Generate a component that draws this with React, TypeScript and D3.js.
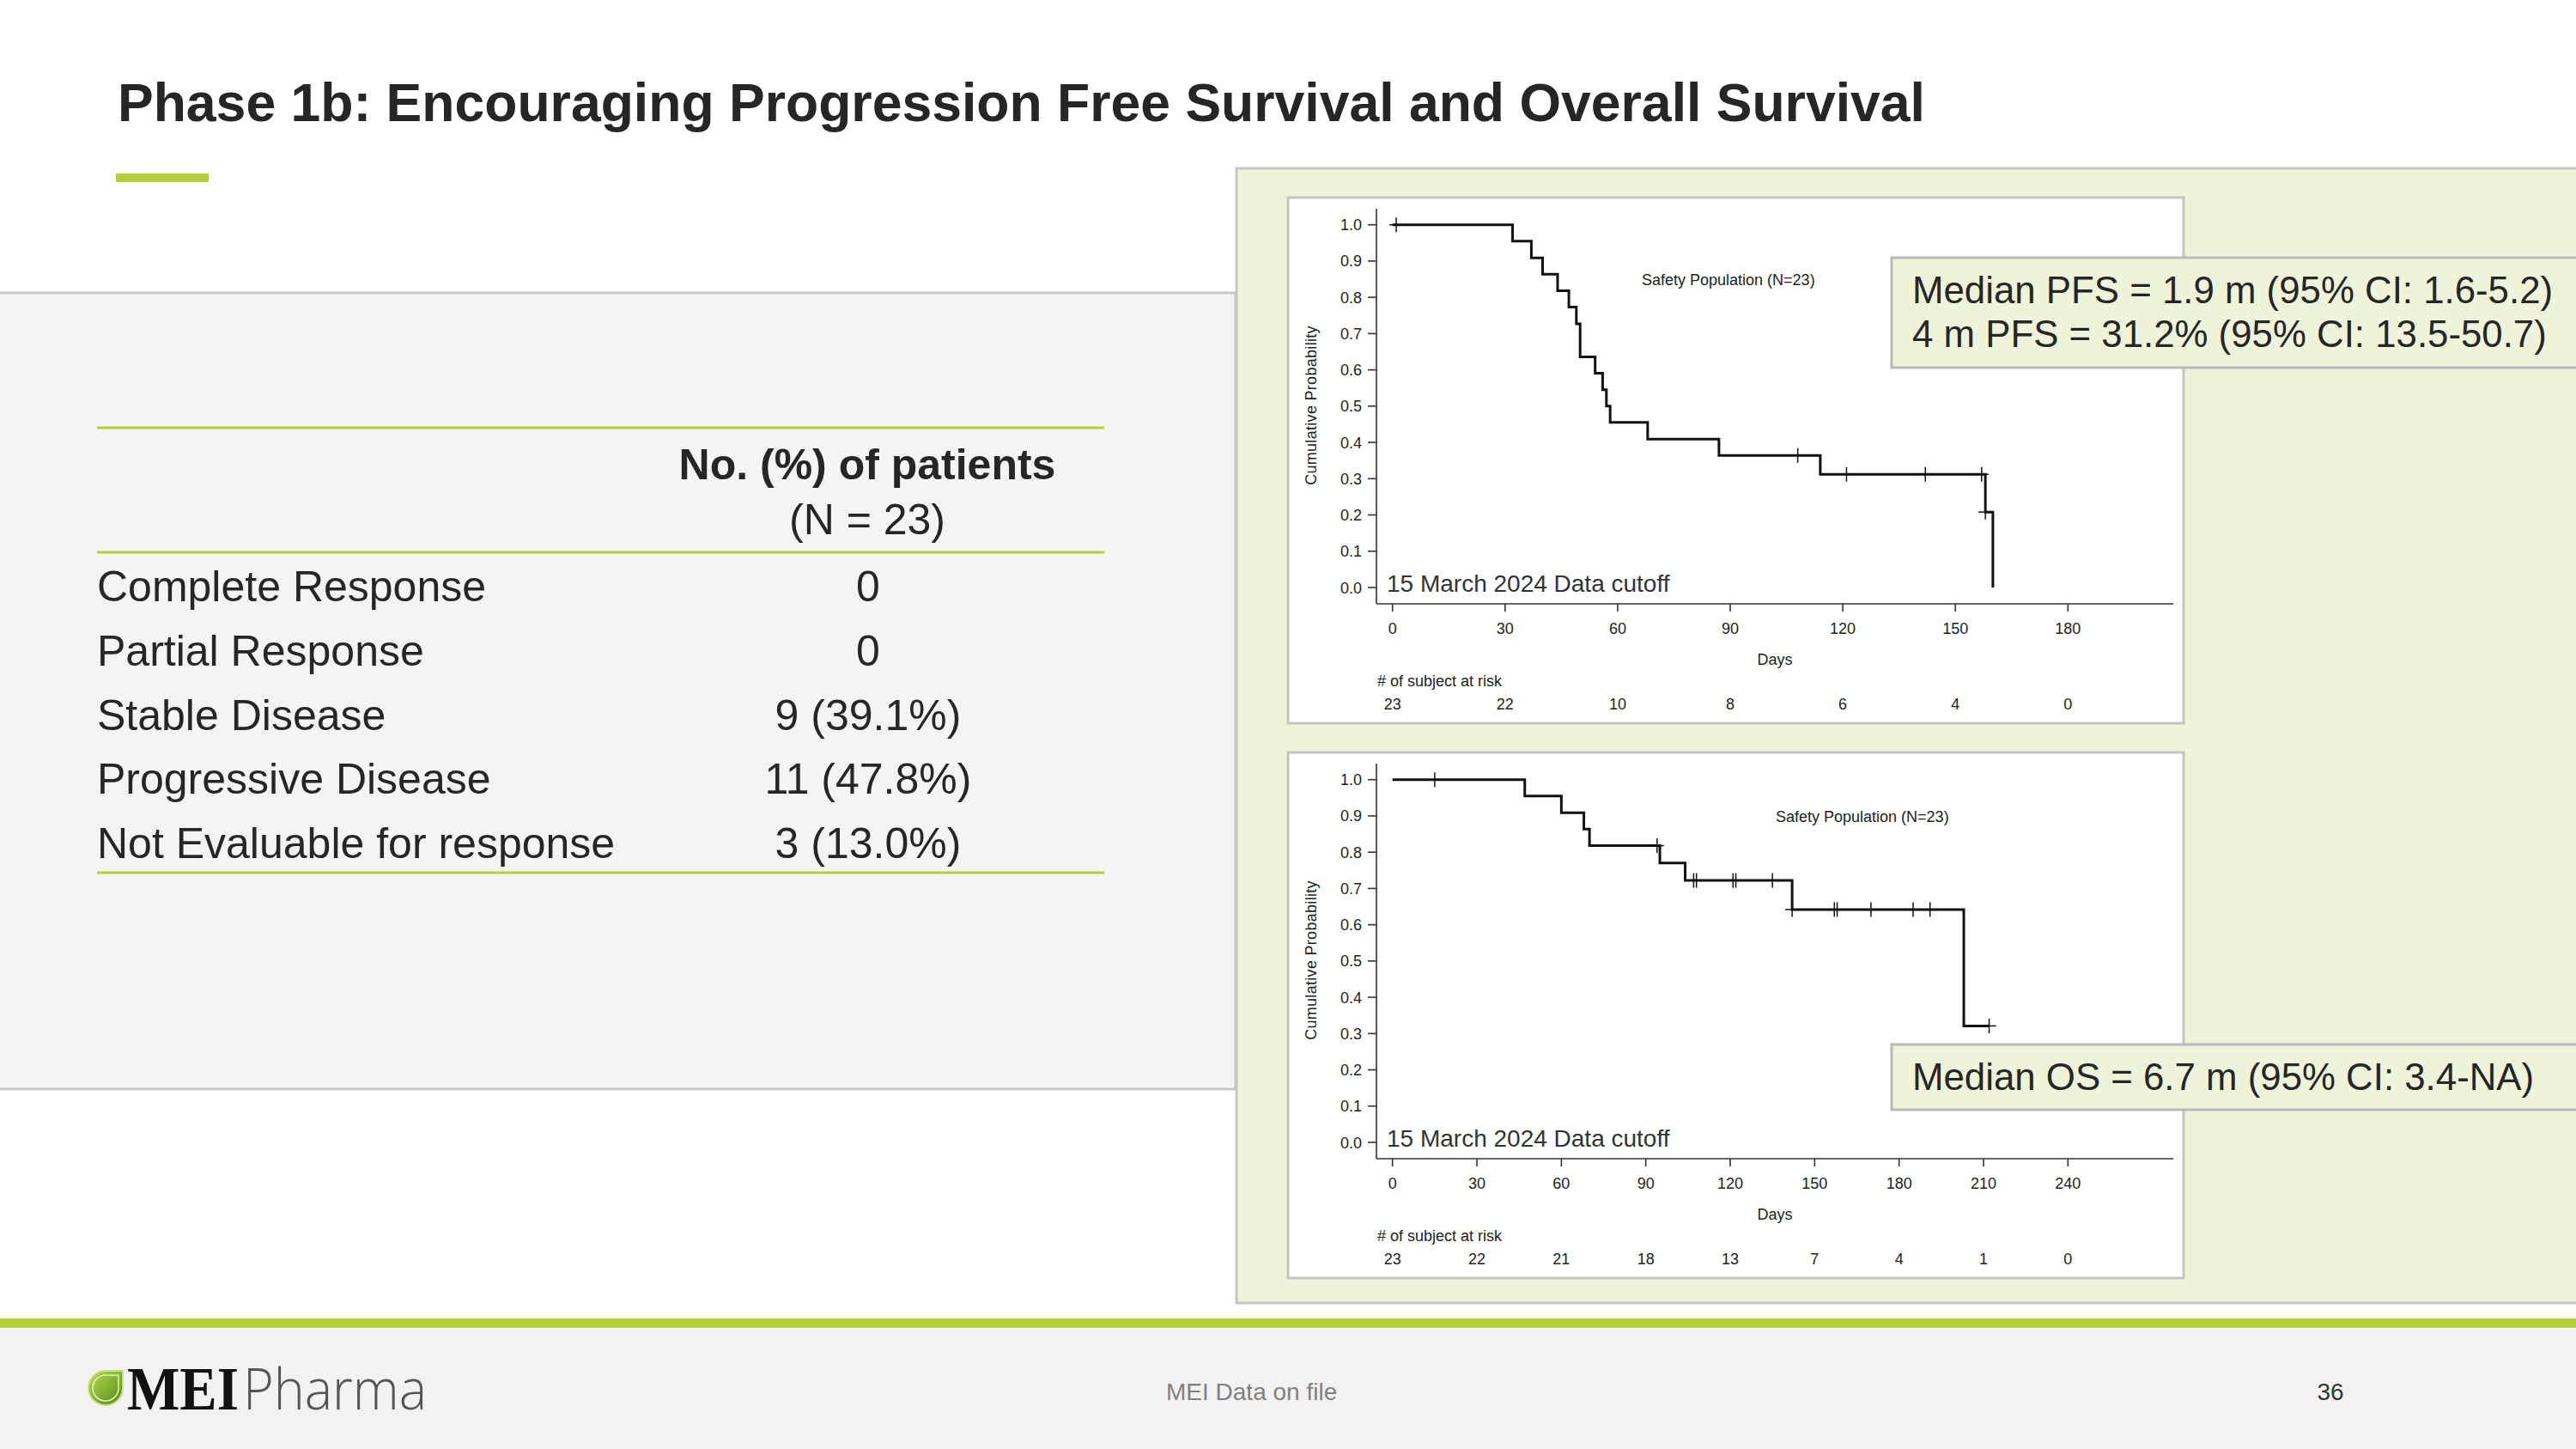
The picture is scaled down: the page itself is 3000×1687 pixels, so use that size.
import React from "react";
import * as d3 from "d3";

const titleText = "Phase 1b: Encouraging Progression Free Survival and Overall Survival";

const tableHeader1 = "No. (%) of patients";
const tableHeader2 = "(N = 23)";
const tableRowLabels = [
  "Complete Response",
  "Partial Response",
  "Stable Disease",
  "Progressive Disease",
  "Not Evaluable for response",
];
const tableRowValues = ["0", "0", "9 (39.1%)", "11 (47.8%)", "3 (13.0%)"];

const yTicks = [0, 0.1, 0.2, 0.3, 0.4, 0.5, 0.6, 0.7, 0.8, 0.9, 1.0];

// PFS Kaplan-Meier (days, survival)
const pfsTimes = [0, 32, 37, 40, 44, 47, 49, 50, 54, 56, 57, 58, 68, 87, 114, 158, 160];
const pfsSurv = [1, 0.955, 0.909, 0.864, 0.818, 0.773, 0.727, 0.636, 0.591, 0.545, 0.5, 0.455, 0.409, 0.364, 0.312, 0.208, 0];
const pfsCensorTimes = [1, 108, 121, 142, 157, 158];
const pfsCensorSurv = [1, 0.364, 0.312, 0.312, 0.312, 0.208];
const pfsXTicks = [0, 30, 60, 90, 120, 150, 180];
const pfsAtRisk = [23, 22, 10, 8, 6, 4, 0];
const pfsNotes = ["Median PFS = 1.9 m (95% CI: 1.6-5.2)", "4 m PFS = 31.2% (95% CI: 13.5-50.7)"];

// OS Kaplan-Meier
const osTimes = [0, 47, 60, 68, 70, 95, 104, 142, 203, 212];
const osSurv = [1, 0.955, 0.909, 0.864, 0.818, 0.77, 0.722, 0.642, 0.321, 0.321];
const osCensorTimes = [15, 94, 107, 108, 121, 122, 135, 142, 157, 158, 170, 185, 191, 212];
const osCensorSurv = [1, 0.818, 0.722, 0.722, 0.722, 0.722, 0.722, 0.642, 0.642, 0.642, 0.642, 0.642, 0.642, 0.321];
const osXTicks = [0, 30, 60, 90, 120, 150, 180, 210, 240];
const osAtRisk = [23, 22, 21, 18, 13, 7, 4, 1, 0];
const osNotes = ["Median OS = 6.7 m (95% CI: 3.4-NA)"];

const populationLabel = "Safety Population (N=23)";
const cutoffLabel = "15 March 2024 Data cutoff";

const GREEN = "#b3d03a";
const TEXT = "#262626";
const SANS = "'Liberation Sans', Arial, Helvetica, sans-serif";

type KMProps = {
  top: number;
  times: number[];
  surv: number[];
  cTimes: number[];
  cSurv: number[];
  xTicks: number[];
  atRisk: number[];
  popX: number;
  popDy: number;
};

function KMPanel({ top, times, surv, cTimes, cSurv, xTicks, atRisk, popX, popDy }: KMProps) {
  const xMax = xTicks[xTicks.length - 1];
  const x = d3.scaleLinear().domain([0, xMax]).range([1621.7, 2408.3]);
  const y = d3.scaleLinear().domain([0, 1]).range([top + 454, top + 31.7]);
  const pts: [number, number][] = times.map((t, i) => [t, surv[i]]);
  const line = d3
    .line<[number, number]>()
    .x((d) => x(d[0]))
    .y((d) => y(d[1]))
    .curve(d3.curveStepAfter);
  const axisX = 1603;
  const axisY = top + 473;
  const fmt = d3.format(".1f");
  return (
    <g fontFamily={SANS}>
      <rect x={1500} y={top} width={1043} height={612} fill="#ffffff" stroke="#c4c4c4" strokeWidth={3} />
      {/* y axis */}
      <line x1={axisX} x2={axisX} y1={top + 13} y2={axisY} stroke="#333" strokeWidth={1.6} />
      {yTicks.map((t) => (
        <g key={"y" + t}>
          <line x1={axisX - 10} x2={axisX} y1={y(t)} y2={y(t)} stroke="#333" strokeWidth={1.6} />
          <text x={1586} y={y(t) + 6.5} fontSize={18} textAnchor="end" fill="#222">
            {fmt(t)}
          </text>
        </g>
      ))}
      <text
        transform={`translate(1532.5,${top + 242}) rotate(-90)`}
        fontSize={18}
        textAnchor="middle"
        fill="#222"
        letterSpacing={0.3}
      >
        Cumulative Probability
      </text>
      {/* x axis */}
      <line x1={axisX} x2={2531} y1={axisY} y2={axisY} stroke="#333" strokeWidth={1.6} />
      {xTicks.map((t) => (
        <g key={"x" + t}>
          <line x1={x(t)} x2={x(t)} y1={axisY} y2={axisY + 9} stroke="#333" strokeWidth={1.6} />
          <text x={x(t)} y={top + 508} fontSize={18} textAnchor="middle" fill="#222">
            {t}
          </text>
        </g>
      ))}
      <text x={2067} y={top + 544} fontSize={18} textAnchor="middle" fill="#222">
        Days
      </text>
      <text x={1604} y={top + 569} fontSize={18} fill="#222">
        # of subject at risk
      </text>
      {atRisk.map((n, i) => (
        <text key={"r" + i} x={x(xTicks[i])} y={top + 596} fontSize={18} textAnchor="middle" fill="#222">
          {n}
        </text>
      ))}
      <text x={popX} y={top + popDy} fontSize={18} fill="#222">
        {populationLabel}
      </text>
      <text x={1615} y={top + 459} fontSize={28} fill="#333">
        {cutoffLabel}
      </text>
      {/* curve */}
      <path d={line(pts) || ""} fill="none" stroke="#111" strokeWidth={3} />
      {cTimes.map((t, i) => (
        <g key={"c" + i} stroke="#111" strokeWidth={1.5}>
          <line x1={x(t) - 8} x2={x(t) + 8} y1={y(cSurv[i])} y2={y(cSurv[i])} />
          <line x1={x(t)} x2={x(t)} y1={y(cSurv[i]) - 8.5} y2={y(cSurv[i]) + 8.5} />
        </g>
      ))}
    </g>
  );
}

function NoteBox({ y0, h, lines, base }: { y0: number; h: number; lines: string[]; base: number }) {
  return (
    <g fontFamily={SANS}>
      <rect x={2203} y={y0} width={820} height={h} fill="#eef4d9" stroke="#b9b9b9" strokeWidth={3} />
      {lines.map((l, i) => (
        <text key={i} x={2227} y={base + i * 51} fontSize={43.8} fill={TEXT}>
          {l}
        </text>
      ))}
    </g>
  );
}

export default function App() {
  const rowY = d3.scaleLinear().domain([0, tableRowLabels.length - 1]).range([700, 999]);
  return (
    <svg
      width={3000}
      height={1687}
      viewBox="0 0 3000 1687"
      style={{ position: "absolute", left: 0, top: 0, display: "block" }}
      xmlns="http://www.w3.org/2000/svg"
    >
      <defs>
        <linearGradient id="leafGrad" x1="0" y1="0" x2="1" y2="1">
          <stop offset="0" stopColor="#b9dc4f" />
          <stop offset="1" stopColor="#4f8a1c" />
        </linearGradient>
      </defs>
      <rect x={0} y={0} width={3000} height={1687} fill="#ffffff" />

      {/* title */}
      <text x={137} y={141} fontFamily={SANS} fontWeight="bold" fontSize={62.5} fill={TEXT}>
        {titleText}
      </text>
      <rect x={135} y={202} width={108} height={10} fill={GREEN} />

      {/* table panel */}
      <rect x={-3} y={341} width={1442} height={927} fill="#f4f4f4" stroke="#c8c8c8" strokeWidth={3} />
      <g fontFamily={SANS} fill={TEXT}>
        <line x1={113} x2={1286} y1={498} y2={498} stroke={GREEN} strokeWidth={3} />
        <text x={1010} y={558} fontSize={50} fontWeight="bold" textAnchor="middle">
          {tableHeader1}
        </text>
        <text x={1010} y={622} fontSize={50} textAnchor="middle">
          {tableHeader2}
        </text>
        <line x1={113} x2={1286} y1={643} y2={643} stroke={GREEN} strokeWidth={3} />
        {tableRowLabels.map((l, i) => (
          <g key={l}>
            <text x={113} y={rowY(i)} fontSize={50}>
              {l}
            </text>
            <text x={1011} y={rowY(i)} fontSize={50} textAnchor="middle">
              {tableRowValues[i]}
            </text>
          </g>
        ))}
        <line x1={113} x2={1286} y1={1016} y2={1016} stroke={GREEN} strokeWidth={3} />
      </g>

      {/* green panel */}
      <rect x={1440} y={196} width={1575} height={1321} fill="#eef4d9" stroke="#c6c6c6" strokeWidth={3} />

      <KMPanel
        top={230}
        times={pfsTimes}
        surv={pfsSurv}
        cTimes={pfsCensorTimes}
        cSurv={pfsCensorSurv}
        xTicks={pfsXTicks}
        atRisk={pfsAtRisk}
        popX={1912}
        popDy={102}
      />
      <NoteBox y0={300} h={128} lines={pfsNotes} base={353} />

      <KMPanel
        top={876}
        times={osTimes}
        surv={osSurv}
        cTimes={osCensorTimes}
        cSurv={osCensorSurv}
        xTicks={osXTicks}
        atRisk={osAtRisk}
        popX={2068}
        popDy={81}
      />
      <NoteBox y0={1216} h={76} lines={osNotes} base={1269} />

      {/* footer */}
      <rect x={0} y={1535} width={3000} height={11} fill={GREEN} />
      <rect x={0} y={1548} width={3000} height={139} fill="#f2f2f2" />
      <path
        d="M143,1596 L123,1596 A20,20 0 1 0 143,1616 Z"
        fill="url(#leafGrad)"
        stroke="#c6e27a"
        strokeWidth={2}
      />
      <path
        d="M138,1601 L123,1601 A15,15 0 1 0 138,1616 Z"
        fill="none"
        stroke="#e4f3b0"
        strokeWidth={1.5}
      />
      <text
        x={148}
        y={1641}
        fontFamily="'Liberation Serif', 'Times New Roman', serif"
        fontWeight="bold"
        fontSize={72}
        textLength={130}
        lengthAdjust="spacingAndGlyphs"
        fill="#111"
      >
        MEI
      </text>
      <text
        x={283}
        y={1641}
        fontFamily="'Open Sans', sans-serif"
        fontWeight={300}
        fontSize={66}
        textLength={214}
        lengthAdjust="spacingAndGlyphs"
        fill="#555"
      >
        Pharma
      </text>
      <text x={1358} y={1630} fontFamily={SANS} fontSize={28} fill="#808080">
        MEI Data on file
      </text>
      <text x={2714} y={1630} fontFamily={SANS} fontSize={28} textAnchor="middle" fill="#333">
        36
      </text>
    </svg>
  );
}
